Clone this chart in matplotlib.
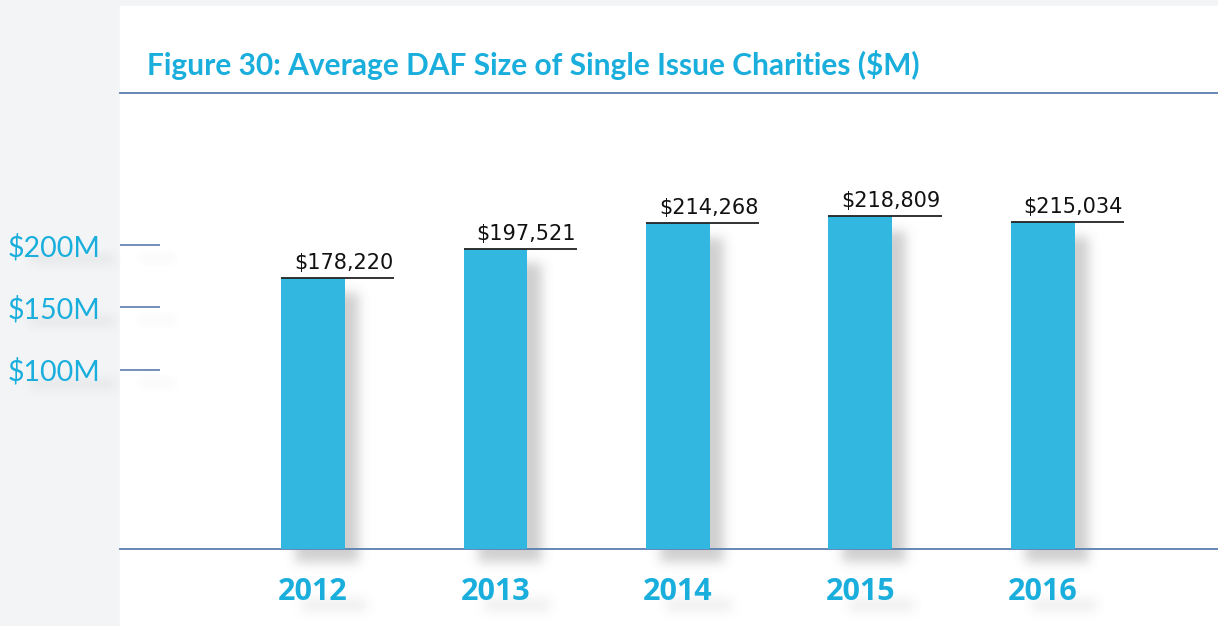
import math
import numpy as np
import matplotlib.pyplot as plt
from matplotlib.patches import Rectangle

years = ['2012', '2013', '2014', '2015', '2016']
avg_size = [178220, 197521, 214268, 218809, 215034]
tick_values = [200000, 159000, 118000]
tick_labels = ['$200M', '$150M', '$100M']
title = 'Figure 30: Average DAF Size of Single Issue Charities ($M)'

BLUE = '#31b7e0'
TEXT_BLUE = '#1aaedc'
RULE = '#5a7db0'
W, H = 1218, 626

erf = np.vectorize(math.erf)


def soft_shadow(ax, x0, x1, y0, y1, blur, alpha):
    # blurred grey box in pixel coordinates (origin bottom-left)
    pad = 3 * blur
    xs = np.linspace(x0 - pad, x1 + pad, 90)
    ys = np.linspace(y0 - pad, y1 + pad, 160)
    fx = 0.5 * (erf((xs - x0) / blur) - erf((xs - x1) / blur))
    fy = 0.5 * (erf((ys - y0) / blur) - erf((ys - y1) / blur))
    img = np.zeros((len(ys), len(xs), 4))
    img[..., :3] = 0.45
    img[..., 3] = np.outer(fy, fx) * alpha
    ax.imshow(img, extent=(xs[0], xs[-1], ys[0], ys[-1]), origin='lower',
              interpolation='bilinear', aspect='auto', zorder=1)


fig = plt.figure(figsize=(W / 100, H / 100), dpi=100, facecolor='#f3f4f6')

# background layer in pixel units
bg = fig.add_axes([0, 0, 1, 1], zorder=0)
bg.set_xlim(0, W)
bg.set_ylim(0, H)
bg.axis('off')
bg.add_patch(Rectangle((120, 0), W - 120, H - 6, color='white', zorder=0))

ax = fig.add_axes([120 / W, 1 - 549 / H, 1 - 120 / W, (549 - 93) / H], zorder=1)
ax.set_facecolor('none')

x = np.arange(len(years))
bar_w = 0.35
ax.set_xlim(-1.058, 4.96)
ax.set_ylim(0, 300000)

ax.bar(x, avg_size, width=bar_w, color=BLUE, zorder=3)

for i, v in zip(x, avg_size):
    ax.hlines(v, i - bar_w / 2, i + 0.445, color='#222222', lw=1.3, zorder=4)
    ax.annotate(f'${v:,}', xy=(i + 0.44, v), xytext=(0, 6.5), textcoords='offset points',
                ha='right', va='baseline', fontsize=15, family='DejaVu Sans',
                color='#111111')

for s in ['left', 'right']:
    ax.spines[s].set_visible(False)
for s in ['top', 'bottom']:
    ax.spines[s].set_color(RULE)
    ax.spines[s].set_linewidth(1.3)

ax.set_xticks(x, years)
ax.tick_params(axis='x', length=0, pad=20, labelcolor=TEXT_BLUE, labelsize=22)
for lab in ax.get_xticklabels():
    lab.set_fontfamily('Open Sans')
    lab.set_fontweight('bold')

ax.set_yticks(tick_values, tick_labels)
ax.tick_params(axis='y', direction='in', length=29, width=1.2, color=RULE, pad=14,
               labelcolor=TEXT_BLUE, labelsize=20.5)
for lab in ax.get_yticklabels():
    lab.set_fontfamily('Lato')

fig.text(147 / W, 1 - 65 / H, title, fontsize=21.5, fontweight='bold', family='Lato',
         color=TEXT_BLUE, va='center', ha='left')

# drop shadows behind bars, labels and ticks
fig.canvas.draw()
to_px = ax.transData.transform
for i, v in zip(x, avg_size):
    (bx0, by0), (bx1, by1) = to_px((i - bar_w / 2, 0)), to_px((i + bar_w / 2, v))
    soft_shadow(bg, bx0 + 14, bx1 + 14, by0 - 14, by1 - 14, 8, 0.34)
    soft_shadow(bg, bx0 + 20, bx1 + 22, by0 - 62, by0 - 50, 8, 0.12)
for t in tick_values:
    ty = to_px((0, t))[1]
    soft_shadow(bg, 30, 115, ty - 18, ty - 10, 7, 0.12)
    soft_shadow(bg, 140, 175, ty - 16, ty - 10, 6, 0.06)

fig.savefig('out.png', dpi=100, facecolor=fig.get_facecolor())
